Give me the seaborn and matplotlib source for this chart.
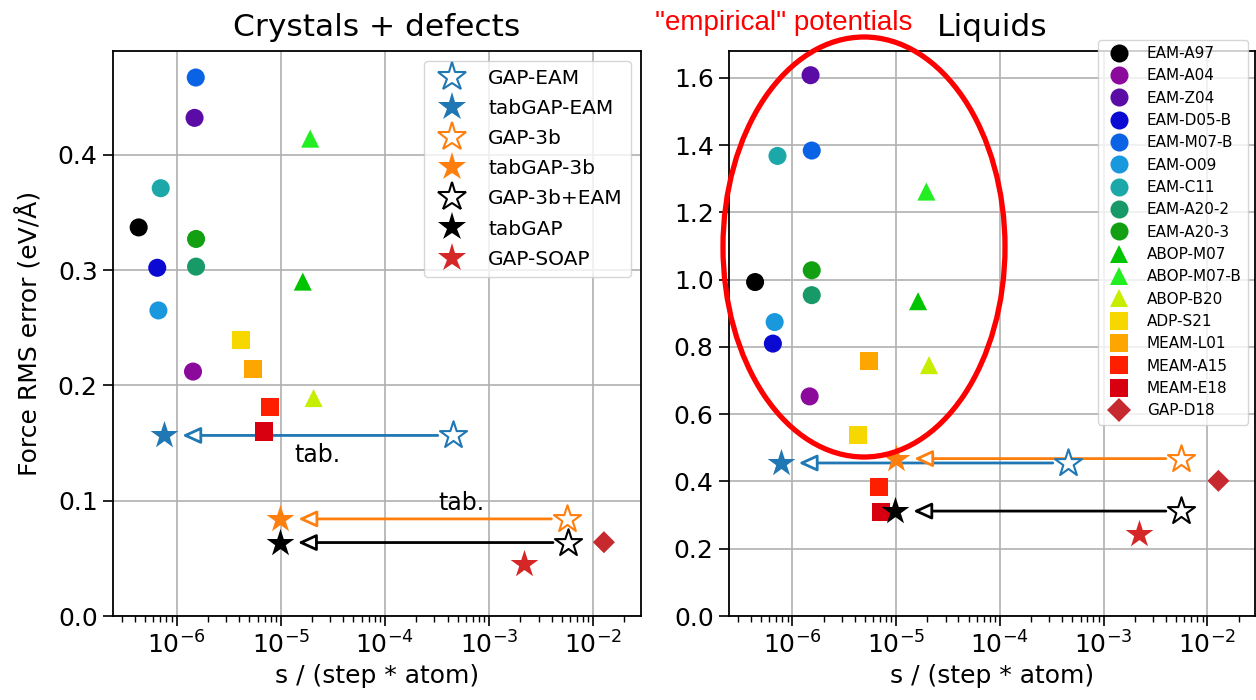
import pandas as pd
import matplotlib
matplotlib.use("Agg")
import matplotlib.pyplot as plt
from matplotlib.lines import Line2D
from matplotlib.patches import Ellipse
import seaborn as sns

# ---- empirical potentials ----
emp_names = ["EAM-A97", "EAM-A04", "EAM-Z04", "EAM-D05-B", "EAM-M07-B", "EAM-O09",
             "EAM-C11", "EAM-A20-2", "EAM-A20-3", "ABOP-M07", "ABOP-M07-B", "ABOP-B20",
             "ADP-S21", "MEAM-L01", "MEAM-A15", "MEAM-E18", "GAP-D18"]
emp_markers = ["o"] * 9 + ["^"] * 3 + ["s"] * 4 + ["D"]
emp_colors = ["#000000", "#8b0a9b", "#5c0ca6", "#0a0ad2", "#0a62e4", "#1a98de",
              "#1ca8a8", "#179a68", "#12a012", "#00c400", "#22ee22", "#c6ee00",
              "#f6d800", "#fea600", "#fe1e00", "#d80010", "#c62a2e"]
emp_sizes = [169] * 16 + [126]

# crystals + defects
emp_s_cryst = [4.33e-7, 1.44e-6, 1.49e-6, 6.53e-7, 1.53e-6, 6.7e-7, 7.05e-7, 1.54e-6,
               1.54e-6, 1.63e-5, 1.92e-5, 2.07e-5, 4.19e-6, 5.38e-6, 7.87e-6, 6.85e-6, 1.27e-2]
emp_err_cryst = [0.337, 0.212, 0.432, 0.302, 0.467, 0.265, 0.371, 0.303, 0.327, 0.290,
                 0.414, 0.189, 0.239, 0.214, 0.181, 0.160, 0.064]
# liquids
emp_s_liq = [4.38e-7, 1.47e-6, 1.50e-6, 6.5e-7, 1.54e-6, 6.76e-7, 7.2e-7, 1.54e-6,
             1.54e-6, 1.63e-5, 1.96e-5, 2.08e-5, 4.26e-6, 5.48e-6, 6.9e-6, 7.15e-6, 1.28e-2]
emp_err_liq = [0.993, 0.653, 1.608, 0.810, 1.384, 0.874, 1.368, 0.954, 1.028, 0.936,
               1.262, 0.746, 0.538, 0.758, 0.384, 0.310, 0.402]

# ---- GAP models (open star) and their tabulated versions (filled star) ----
gap_names = ["GAP-EAM", "GAP-3b", "GAP-3b+EAM"]
tab_names = ["tabGAP-EAM", "tabGAP-3b", "tabGAP"]
gap_colors = ["#1f77b4", "#ff7f0e", "#000000"]
gap_s_cryst = [4.52e-4, 5.57e-3, 5.78e-3]
tab_s_cryst = [7.6e-7, 9.9e-6, 9.8e-6]
gap_err_cryst = [0.1566, 0.0842, 0.0637]
gap_s_liq = [4.55e-4, 5.58e-3, 5.6e-3]
tab_s_liq = [7.7e-7, 1.0e-5, 9.8e-6]
gap_err_liq = [0.455, 0.468, 0.312]

soap_name = "GAP-SOAP"
soap_color = "#d62728"
soap_s = [2.15e-3, 2.2e-3]        # crystals, liquids
soap_err = [0.0448, 0.245]

# "tab." labels (crystals panel only)
tab_text_x = [2.25e-5, 5.5e-4]
tab_text_y = [0.140, 0.098]

sns.set_theme(style="ticks", rc={
    "axes.edgecolor": "black", "axes.linewidth": 1.3,
    "xtick.color": "black", "ytick.color": "black",
    "text.color": "black", "axes.labelcolor": "black",
})
plt.rcParams["font.family"] = ["DejaVu Sans"]

fig = plt.figure(figsize=(12.56, 7), dpi=100)
ax1 = fig.add_axes([113 / 1256, 1 - 616 / 700, 528 / 1256, 565 / 700])
ax2 = fig.add_axes([729 / 1256, 1 - 616 / 700, 526 / 1256, 565 / 700])


def panel(ax, s_emp, err_emp, s_gap, s_tab, err_gap, s_soap, err_soap):
    # arrows GAP -> tabGAP
    for i in range(len(gap_names)):
        ax.annotate("", xy=(s_tab[i], err_gap[i]), xytext=(s_gap[i], err_gap[i]),
                    arrowprops=dict(arrowstyle="-|>,head_length=0.55,head_width=0.25",
                                    ec=gap_colors[i], fc="white", lw=2,
                                    shrinkA=11, shrinkB=13, mutation_scale=20),
                    zorder=2)

    df = pd.DataFrame({"name": emp_names, "s": s_emp, "err": err_emp})
    sns.scatterplot(data=df, x="s", y="err", hue="name", style="name", size="name",
                    palette=dict(zip(emp_names, emp_colors)),
                    markers=dict(zip(emp_names, emp_markers)),
                    sizes=dict(zip(emp_names, emp_sizes)),
                    linewidth=0, legend=False, ax=ax, zorder=3)

    for i in range(len(gap_names)):
        sns.scatterplot(x=[s_gap[i]], y=[err_gap[i]], marker="*", s=420, color="white",
                        edgecolor=gap_colors[i], linewidth=1.5, ax=ax, zorder=4)
        sns.scatterplot(x=[s_tab[i]], y=[err_gap[i]], marker="*", s=440,
                        color=gap_colors[i], linewidth=0, ax=ax, zorder=4)
    sns.scatterplot(x=[s_soap], y=[err_soap], marker="*", s=440, color=soap_color,
                    linewidth=0, ax=ax, zorder=4)

    ax.set_xscale("log")
    ax.set_xlim(10 ** -6.61, 10 ** -1.54)
    ax.grid(True, which="major", color="#b0b0b0", lw=1.2)
    ax.set_axisbelow(True)
    ax.tick_params(which="major", length=7, width=1.2, labelsize=18, pad=4)
    ax.tick_params(which="minor", length=4, width=1.0)
    ax.set_xlabel("s / (step * atom)", fontsize=18)


panel(ax1, emp_s_cryst, emp_err_cryst, gap_s_cryst, tab_s_cryst, gap_err_cryst,
      soap_s[0], soap_err[0])
panel(ax2, emp_s_liq, emp_err_liq, gap_s_liq, tab_s_liq, gap_err_liq,
      soap_s[1], soap_err[1])

ax1.set_ylim(0, 0.49)
ax1.set_yticks([0.0, 0.1, 0.2, 0.3, 0.4])
ax2.set_ylim(0, 1.68)
ax2.set_yticks([0.0, 0.2, 0.4, 0.6, 0.8, 1.0, 1.2, 1.4, 1.6])
ax1.set_ylabel("Force RMS error (eV/Å)", fontsize=18, labelpad=12)
ax2.set_ylabel("")
ax1.set_title("Crystals + defects", fontsize=22.5, pad=11)
ax2.set_title("Liquids", fontsize=22.5, pad=11)

for tx, ty in zip(tab_text_x, tab_text_y):
    ax1.text(tx, ty, "tab.", fontsize=17, ha="center", va="center")

# legend: GAP models
gap_handles = []
gap_labels = []
for i in range(len(gap_names)):
    gap_handles.append(Line2D([], [], ls="", marker="*", ms=21, mfc="white",
                              mec=gap_colors[i], mew=1.5))
    gap_labels.append(gap_names[i])
    gap_handles.append(Line2D([], [], ls="", marker="*", ms=21, mfc=gap_colors[i],
                              mec=gap_colors[i], mew=0))
    gap_labels.append(tab_names[i])
gap_handles.append(Line2D([], [], ls="", marker="*", ms=21, mfc=soap_color, mew=0))
gap_labels.append(soap_name)
ax1.legend(gap_handles, gap_labels, loc="upper right", fontsize=14.5,
           labelspacing=0.55, frameon=True)

# legend: empirical potentials
emp_handles = [Line2D([], [], ls="", marker=m, ms=(sz ** 0.5) * (1.1 if m == "D" else 1.0),
                      mfc=c, mew=0)
               for m, c, sz in zip(emp_markers, emp_colors, emp_sizes)]
ax2.legend(emp_handles, emp_names, loc="upper left", fontsize=11, labelspacing=0.48,
           bbox_to_anchor=(1098 / 1256, 1 - 40 / 700), bbox_transform=fig.transFigure,
           borderaxespad=0, frameon=True)

# annotation of the empirical potentials
fig.text(655 / 1256, 1 - 30 / 700, '"empirical" potentials', color="red", fontsize=20,
         family="Liberation Sans", ha="left", va="baseline")
fig.add_artist(Ellipse((864 / 1256, 1 - 247 / 700), 282 / 1256, 420 / 700,
                       transform=fig.transFigure, fill=False, ec="red", lw=3.8, zorder=10))

fig.savefig("out.png", dpi=100)
